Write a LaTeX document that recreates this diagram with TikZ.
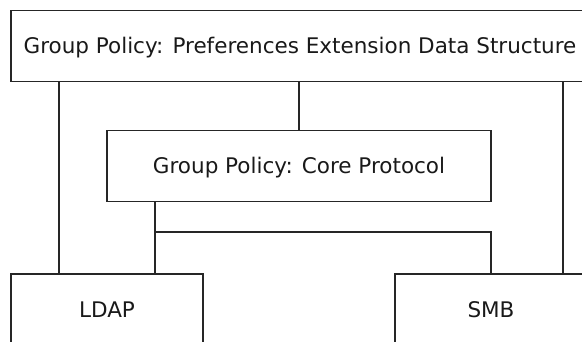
\documentclass[tikz,border=0pt]{standalone}
\usepackage{fontspec}
\setmainfont{DejaVu Sans}
\begin{document}
\begin{tikzpicture}[x=1pt,y=-1pt,
  box/.style={draw=black!85, line width=1.3pt, rectangle, inner sep=0pt,
    font=\fontsize{21.5}{24}\selectfont, text=black!90, text height=15.7pt, text depth=0pt},
  link/.style={draw=black!85, line width=1.3pt}]
\useasboundingbox (0,0) rectangle (582,342);
\node[box, minimum width=578pt, minimum height=71pt] (pref) at (300,45.7) {Group Policy: Preferences Extension Data Structure};
\node[box, minimum width=384pt, minimum height=71.4pt] (core) at (299,166) {Group Policy: Core Protocol};
\node[box, minimum width=192pt, minimum height=71pt] (ldap) at (107,309.5) {LDAP};
\node[box, minimum width=192pt, minimum height=71pt] (smb) at (491,309.5) {SMB};
\coordinate (xA) at (59,0);
\coordinate (xB) at (155,0);
\coordinate (xE) at (563,0);
\coordinate (j1) at (155,232);
\draw[link] (pref.south -| xA) -- (ldap.north -| xA);
\draw[link] (pref.south -| core.north) -- (core.north);
\draw[link] (pref.south -| xE) -- (smb.north -| xE);
\draw[link] (core.south -| xB) -- (ldap.north -| xB);
\draw[link] (j1) -| (smb.north);
\end{tikzpicture}
\end{document}
